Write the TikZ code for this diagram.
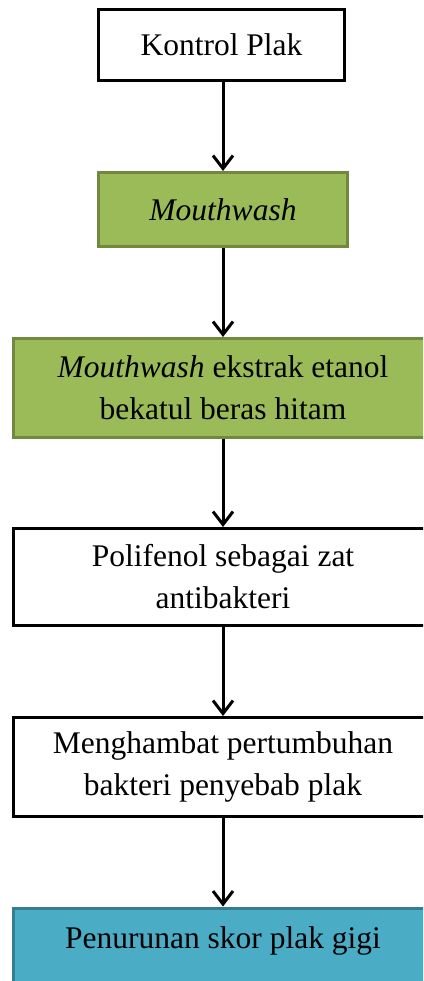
\documentclass[tikz,border=0pt]{standalone}
\usepackage{fontspec}
\setmainfont{Liberation Serif}
\usetikzlibrary{arrows.meta}
\definecolor{boxgreen}{HTML}{9BBB59}
\definecolor{boxgreenline}{HTML}{71893F}
\definecolor{boxblue}{HTML}{4BACC6}
\definecolor{boxblueline}{HTML}{357D91}
\begin{document}
\begin{tikzpicture}[x=1pt, y=-1pt, >={Straight Barb[length=13pt,width=20pt]},
  flowbox/.style={draw=black, line width=3pt, fill=white, align=center,
    font=\fontsize{31.5}{42}\selectfont, inner sep=0pt},
  greenbox/.style={flowbox, draw=boxgreenline, fill=boxgreen},
  bluebox/.style={flowbox, draw=boxblueline, fill=boxblue},
  flowarrow/.style={->, line width=3pt}]
  \clip (0,0) rectangle (423,981);

  \node[flowbox, minimum width=246pt, minimum height=71pt] (kontrol) at (221.5,45) {Kontrol Plak};
  \node[greenbox, minimum width=249pt, minimum height=74pt] (mw) at (223,209.5) {\textit{Mouthwash}};
  \node[greenbox, minimum width=419pt, minimum height=99pt] (ekstrak) at (223,388)
    {\textit{Mouthwash} ekstrak etanol\\bekatul beras hitam};
  \node[flowbox, minimum width=419pt, minimum height=97pt] (polifenol) at (223,577)
    {Polifenol sebagai zat\\antibakteri};
  \node[flowbox, minimum width=419pt, minimum height=99pt] (hambat) at (223,767)
    {Menghambat pertumbuhan\\bakteri penyebab plak};
  \node[bluebox, minimum width=419pt, minimum height=80pt, text depth=20pt] (skor) at (223,948)
    {Penurunan skor plak gigi};

  \draw[flowarrow] (kontrol.south -| mw.north) -- (mw.north);
  \draw[flowarrow] (mw) -- (ekstrak);
  \draw[flowarrow] (ekstrak) -- (polifenol);
  \draw[flowarrow] (polifenol) -- (hambat);
  \draw[flowarrow] (hambat) -- (skor);
\end{tikzpicture}
\end{document}
